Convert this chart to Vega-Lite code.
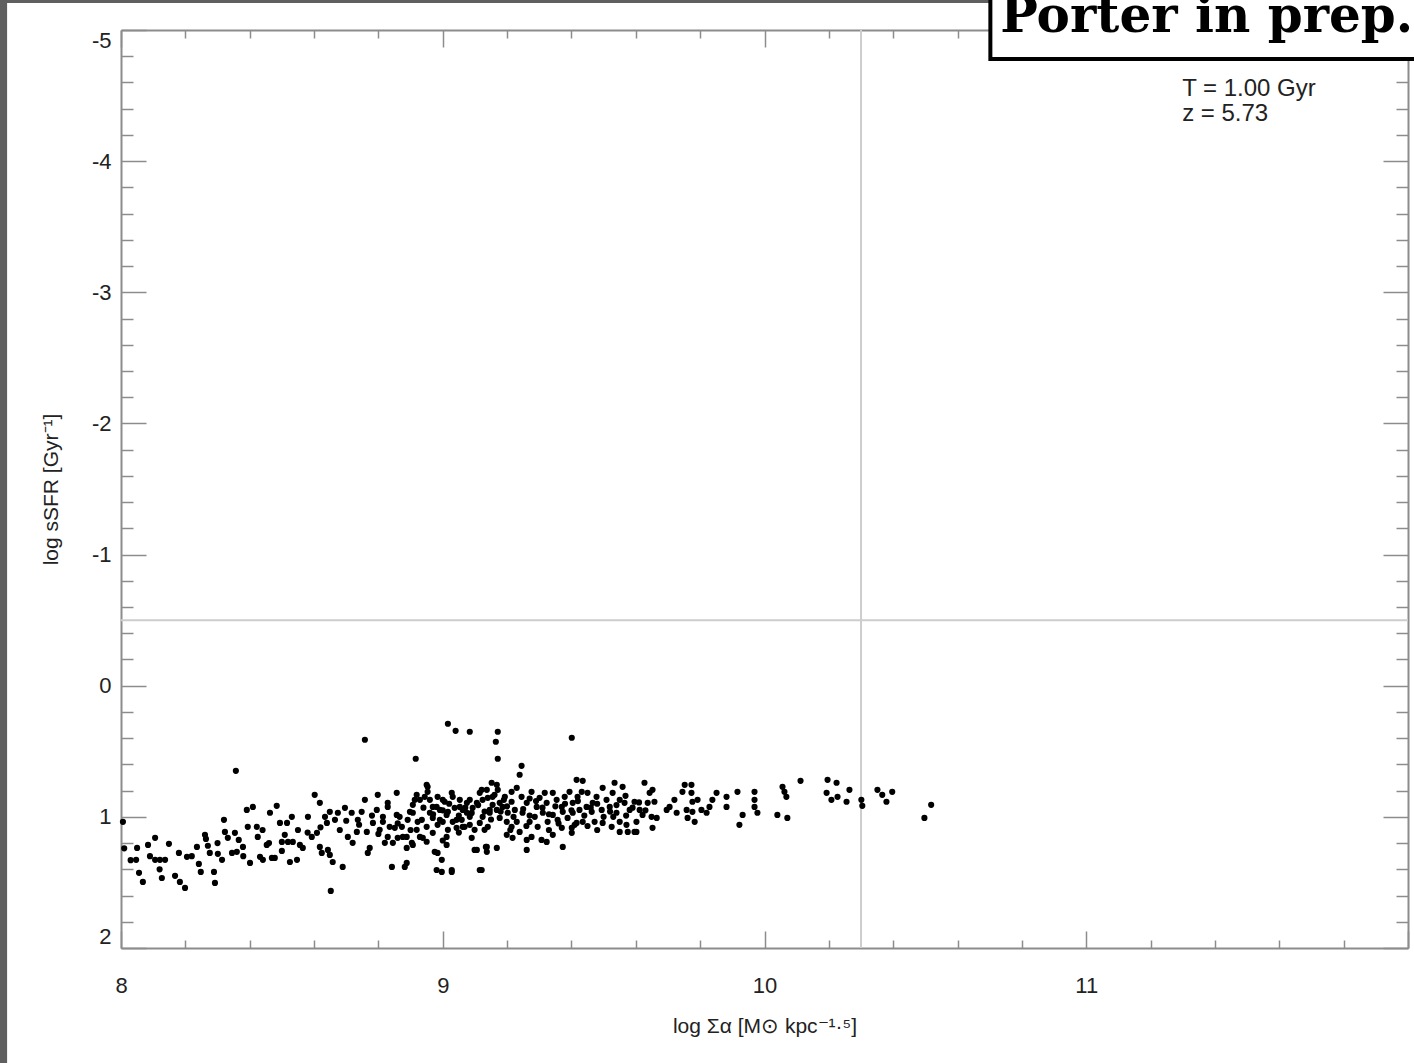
{
  "$schema": "https://vega.github.io/schema/vega-lite/v6.json",
  "width": 1287,
  "height": 918,
  "autosize": {"type": "none"},
  "padding": {"left": 121, "top": 30, "right": 6, "bottom": 115},
  "background": "white",
  "view": {"stroke": null},
  "config": {
    "axis": {
      "grid": false,
      "tickColor": "#8c8c8c",
      "tickWidth": 1.5,
      "domainColor": "#8c8c8c",
      "domainWidth": 2,
      "labelFont": "Liberation Sans",
      "labelFontSize": 22,
      "labelColor": "#222222",
      "labelOverlap": false,
      "labelBound": false,
      "titleFont": "Liberation Sans",
      "titleFontSize": 21,
      "titleFontWeight": "normal",
      "titleColor": "#222222"
    }
  },
  "layer": [
    {
      "data": {"values": [{}]},
      "mark": {"type": "rule", "color": "#cdcdcd", "strokeWidth": 2},
      "encoding": {
        "y": {
          "datum": -0.5,
          "type": "quantitative",
          "scale": {"domain": [-5, 2], "reverse": true, "nice": false, "zero": false},
          "axis": {
            "orient": "right",
            "values": [-5,-4.8,-4.6,-4.4,-4.2,-4,-3.8,-3.6,-3.4,-3.2,-3,-2.8,-2.6,-2.4,-2.2,-2,-1.8,-1.6,-1.4,-1.2,-1,-0.8,-0.6,-0.4,-0.2,0,0.2,0.4,0.6,0.8,1,1.2,1.4,1.6,1.8,2],
            "labels": false,
            "title": null,
            "tickSize": {"condition": {"test": "abs(datum.value - round(datum.value)) < 0.01", "value": -25}, "value": -12}
          }
        }
      }
    },
    {
      "data": {"values": [{}]},
      "mark": {"type": "rule", "color": "#cdcdcd", "strokeWidth": 2},
      "encoding": {
        "x": {
          "datum": 10.3,
          "type": "quantitative",
          "scale": {"domain": [8, 12], "nice": false, "zero": false},
          "axis": {
            "orient": "top",
            "values": [8,8.2,8.4,8.6,8.8,9,9.2,9.4,9.6,9.8,10,10.2,10.4,10.6,10.8,11,11.2,11.4,11.6,11.8,12],
            "labels": false,
            "title": null,
            "tickSize": {"condition": {"test": "abs(datum.value - round(datum.value)) < 0.01", "value": -17}, "value": -8}
          }
        }
      }
    },
    {
      "data": {"values": [
        {"x":9.016,"y":0.290},{"x":9.040,"y":0.344},{"x":9.084,"y":0.351},{"x":9.171,"y":0.351},{"x":9.165,"y":0.427},
        {"x":9.171,"y":0.557},{"x":8.758,"y":0.412},{"x":8.916,"y":0.557},{"x":8.357,"y":0.649},{"x":8.652,"y":1.565},
        {"x":8.006,"y":1.038},{"x":9.401,"y":0.397},{"x":9.245,"y":0.611},{"x":9.239,"y":0.679},{"x":8.010,"y":1.240},
        {"x":8.050,"y":1.237},{"x":8.047,"y":1.328},{"x":8.056,"y":1.427},{"x":8.068,"y":1.496},{"x":8.084,"y":1.214},
        {"x":8.106,"y":1.160},{"x":8.106,"y":1.328},{"x":8.121,"y":1.328},{"x":8.127,"y":1.466},{"x":8.137,"y":1.328},
        {"x":8.149,"y":1.206},{"x":8.168,"y":1.450},{"x":8.180,"y":1.275},{"x":8.183,"y":1.496},{"x":8.199,"y":1.542},
        {"x":8.205,"y":1.305},{"x":8.236,"y":1.229},{"x":8.242,"y":1.359},{"x":8.248,"y":1.420},{"x":8.261,"y":1.137},
        {"x":8.264,"y":1.168},{"x":8.276,"y":1.275},{"x":8.289,"y":1.420},{"x":8.292,"y":1.504},{"x":8.301,"y":1.282},
        {"x":8.314,"y":1.328},{"x":8.320,"y":1.023},{"x":8.323,"y":1.115},{"x":8.332,"y":1.160},{"x":8.345,"y":1.275},
        {"x":8.354,"y":1.122},{"x":8.360,"y":1.267},{"x":8.366,"y":1.176},{"x":8.379,"y":1.229},{"x":8.391,"y":0.947},
        {"x":8.394,"y":1.076},{"x":8.401,"y":1.351},{"x":8.410,"y":0.924},{"x":8.422,"y":1.076},{"x":8.425,"y":1.153},
        {"x":8.432,"y":1.305},{"x":8.441,"y":1.328},{"x":8.453,"y":1.214},{"x":8.463,"y":0.969},{"x":8.469,"y":1.313},
        {"x":8.478,"y":1.313},{"x":8.484,"y":0.916},{"x":8.494,"y":1.046},{"x":8.500,"y":1.191},{"x":8.509,"y":1.137},
        {"x":8.516,"y":1.046},{"x":8.519,"y":1.191},{"x":8.531,"y":1.000},{"x":8.534,"y":1.191},{"x":8.525,"y":1.344},
        {"x":8.547,"y":1.328},{"x":8.556,"y":1.214},{"x":8.565,"y":1.237},{"x":8.581,"y":1.000},{"x":8.593,"y":1.153},
        {"x":8.602,"y":0.832},{"x":8.609,"y":1.122},{"x":8.618,"y":0.893},{"x":8.618,"y":1.229},{"x":8.624,"y":1.275},
        {"x":8.634,"y":1.000},{"x":8.640,"y":1.046},{"x":8.643,"y":1.252},{"x":8.649,"y":1.290},{"x":8.658,"y":1.344},
        {"x":8.649,"y":0.962},{"x":8.665,"y":1.023},{"x":8.674,"y":0.969},{"x":8.689,"y":1.382},{"x":8.696,"y":0.931},
        {"x":8.705,"y":1.153},{"x":8.717,"y":0.969},{"x":8.720,"y":1.198},{"x":8.733,"y":1.115},{"x":8.736,"y":1.023},
        {"x":8.748,"y":0.962},{"x":8.758,"y":0.870},{"x":8.764,"y":1.115},{"x":8.767,"y":1.275},{"x":8.773,"y":1.237},
        {"x":8.783,"y":1.046},{"x":8.795,"y":0.947},{"x":8.804,"y":1.099},{"x":8.798,"y":0.832},{"x":8.814,"y":1.000},
        {"x":8.820,"y":1.198},{"x":8.829,"y":0.924},{"x":8.835,"y":1.076},{"x":8.842,"y":1.382},{"x":8.845,"y":1.198},
        {"x":8.857,"y":0.817},{"x":8.866,"y":1.000},{"x":8.873,"y":1.076},{"x":8.876,"y":1.153},{"x":8.882,"y":1.382},
        {"x":8.888,"y":1.351},{"x":8.891,"y":1.023},{"x":8.904,"y":1.198},{"x":8.907,"y":0.969},{"x":8.913,"y":0.870},
        {"x":8.919,"y":1.099},{"x":8.929,"y":1.153},{"x":8.935,"y":1.023},{"x":8.944,"y":0.847},{"x":8.950,"y":1.076},
        {"x":8.953,"y":0.771},{"x":8.960,"y":0.969},{"x":8.969,"y":1.122},{"x":8.981,"y":0.924},{"x":8.984,"y":1.275},
        {"x":8.991,"y":1.023},{"x":8.997,"y":1.420},{"x":9.000,"y":0.870},{"x":9.012,"y":1.214},{"x":9.016,"y":0.962},
        {"x":9.028,"y":1.420},{"x":9.031,"y":0.847},{"x":9.043,"y":1.023},{"x":9.053,"y":0.924},{"x":9.062,"y":1.076},
        {"x":9.075,"y":0.969},{"x":9.084,"y":0.870},{"x":9.099,"y":1.252},{"x":9.115,"y":1.405},{"x":9.121,"y":0.794},
        {"x":9.124,"y":1.000},{"x":9.137,"y":1.229},{"x":9.140,"y":1.076},{"x":9.146,"y":0.947},{"x":9.155,"y":0.847},
        {"x":9.168,"y":0.756},{"x":8.950,"y":0.756},{"x":8.953,"y":0.809},{"x":8.829,"y":0.893},{"x":8.919,"y":0.832},
        {"x":8.929,"y":0.870},{"x":8.907,"y":0.908},{"x":8.898,"y":0.962},{"x":8.814,"y":1.038},{"x":8.857,"y":0.985},
        {"x":8.851,"y":1.084},{"x":8.888,"y":1.153},{"x":8.860,"y":1.160},{"x":8.829,"y":1.153},{"x":8.922,"y":1.038},
        {"x":8.938,"y":1.160},{"x":8.907,"y":1.214},{"x":8.888,"y":1.237},{"x":8.960,"y":0.870},{"x":8.969,"y":0.924},
        {"x":8.984,"y":0.847},{"x":8.991,"y":0.947},{"x":9.006,"y":0.885},{"x":9.012,"y":0.985},{"x":9.028,"y":0.817},
        {"x":9.037,"y":0.931},{"x":9.053,"y":0.870},{"x":9.062,"y":0.947},{"x":9.075,"y":0.893},{"x":9.084,"y":1.000},
        {"x":9.093,"y":0.931},{"x":9.106,"y":0.893},{"x":8.969,"y":1.008},{"x":8.984,"y":1.061},{"x":9.000,"y":1.038},
        {"x":9.016,"y":1.099},{"x":9.031,"y":1.038},{"x":9.043,"y":1.084},{"x":9.059,"y":1.023},{"x":9.068,"y":1.076},
        {"x":9.084,"y":1.061},{"x":9.099,"y":1.099},{"x":9.115,"y":1.046},{"x":9.130,"y":1.099},{"x":9.012,"y":1.153},
        {"x":8.975,"y":1.267},{"x":8.997,"y":1.328},{"x":8.981,"y":1.405},{"x":9.028,"y":1.405},{"x":9.106,"y":1.252},
        {"x":9.121,"y":1.405},{"x":9.134,"y":1.229},{"x":9.137,"y":1.267},{"x":9.168,"y":1.237},{"x":9.115,"y":0.817},
        {"x":9.137,"y":0.794},{"x":9.152,"y":0.740},{"x":9.161,"y":0.832},{"x":9.171,"y":0.794},{"x":9.124,"y":0.870},
        {"x":9.140,"y":0.855},{"x":9.155,"y":0.908},{"x":9.168,"y":0.947},{"x":9.146,"y":0.969},{"x":9.177,"y":0.893},
        {"x":9.193,"y":0.847},{"x":9.186,"y":0.924},{"x":9.202,"y":0.969},{"x":9.214,"y":0.885},{"x":9.224,"y":0.947},
        {"x":9.230,"y":0.779},{"x":9.214,"y":0.809},{"x":9.177,"y":1.008},{"x":9.199,"y":1.038},{"x":9.214,"y":1.076},
        {"x":9.230,"y":1.038},{"x":9.239,"y":1.115},{"x":9.217,"y":1.160},{"x":9.199,"y":1.137},{"x":9.245,"y":0.847},
        {"x":9.261,"y":0.893},{"x":9.276,"y":0.809},{"x":9.292,"y":0.924},{"x":9.301,"y":0.855},{"x":9.317,"y":0.817},
        {"x":9.323,"y":0.893},{"x":9.248,"y":0.969},{"x":9.270,"y":1.038},{"x":9.286,"y":1.000},{"x":9.295,"y":1.076},
        {"x":9.311,"y":0.969},{"x":9.326,"y":1.038},{"x":9.261,"y":1.176},{"x":9.276,"y":1.153},{"x":9.261,"y":1.252},
        {"x":9.307,"y":1.176},{"x":9.323,"y":1.191},{"x":9.342,"y":1.137},{"x":9.373,"y":1.229},{"x":9.342,"y":0.817},
        {"x":9.354,"y":0.870},{"x":9.370,"y":0.924},{"x":9.379,"y":0.847},{"x":9.394,"y":0.809},{"x":9.404,"y":0.893},
        {"x":9.416,"y":0.718},{"x":9.419,"y":0.847},{"x":9.342,"y":0.985},{"x":9.357,"y":1.023},{"x":9.373,"y":0.962},
        {"x":9.388,"y":1.008},{"x":9.404,"y":0.969},{"x":9.416,"y":1.046},{"x":9.401,"y":1.084},{"x":9.370,"y":1.084},
        {"x":9.435,"y":0.725},{"x":9.432,"y":0.809},{"x":9.450,"y":0.817},{"x":9.466,"y":0.893},{"x":9.447,"y":0.924},
        {"x":9.425,"y":0.947},{"x":9.463,"y":0.962},{"x":9.478,"y":0.847},{"x":9.497,"y":0.779},{"x":9.509,"y":0.870},
        {"x":9.494,"y":0.947},{"x":9.519,"y":0.924},{"x":9.528,"y":0.817},{"x":9.534,"y":0.740},{"x":9.559,"y":0.771},
        {"x":9.550,"y":0.870},{"x":9.540,"y":0.969},{"x":9.565,"y":0.893},{"x":9.581,"y":0.947},{"x":9.596,"y":0.885},
        {"x":9.612,"y":0.947},{"x":9.627,"y":0.740},{"x":9.643,"y":0.817},{"x":9.652,"y":0.794},{"x":9.637,"y":0.893},
        {"x":9.658,"y":0.885},{"x":9.621,"y":0.985},{"x":9.649,"y":1.000},{"x":9.665,"y":1.008},{"x":9.410,"y":1.061},
        {"x":9.435,"y":1.038},{"x":9.472,"y":1.038},{"x":9.497,"y":1.046},{"x":9.525,"y":1.076},{"x":9.550,"y":1.038},
        {"x":9.571,"y":1.061},{"x":9.602,"y":1.038},{"x":9.401,"y":1.122},{"x":9.550,"y":1.115},{"x":9.575,"y":1.115},
        {"x":9.602,"y":1.115},{"x":9.652,"y":1.084},{"x":9.696,"y":0.947},{"x":9.705,"y":0.924},{"x":9.720,"y":0.870},
        {"x":9.727,"y":0.969},{"x":9.752,"y":0.756},{"x":9.773,"y":0.756},{"x":9.745,"y":0.809},{"x":9.773,"y":0.817},
        {"x":9.776,"y":0.885},{"x":9.792,"y":0.870},{"x":9.758,"y":0.947},{"x":9.776,"y":0.962},{"x":9.761,"y":1.008},
        {"x":9.783,"y":1.038},{"x":9.804,"y":0.947},{"x":9.820,"y":0.969},{"x":9.829,"y":0.924},{"x":9.838,"y":0.870},
        {"x":9.851,"y":0.817},{"x":9.882,"y":0.847},{"x":9.882,"y":0.924},{"x":9.916,"y":0.809},{"x":9.932,"y":0.985},
        {"x":9.922,"y":1.061},{"x":9.969,"y":0.809},{"x":9.969,"y":0.870},{"x":9.969,"y":0.924},{"x":9.978,"y":0.969},
        {"x":10.040,"y":0.985},{"x":10.056,"y":0.771},{"x":10.062,"y":0.809},{"x":10.068,"y":0.847},{"x":10.071,"y":1.008},
        {"x":10.112,"y":0.725},{"x":10.196,"y":0.718},{"x":10.224,"y":0.740},{"x":10.264,"y":0.794},{"x":10.193,"y":0.817},
        {"x":10.208,"y":0.870},{"x":10.227,"y":0.847},{"x":10.255,"y":0.885},{"x":10.301,"y":0.870},{"x":10.304,"y":0.916},
        {"x":10.351,"y":0.794},{"x":10.366,"y":0.832},{"x":10.379,"y":0.885},{"x":10.397,"y":0.809},{"x":10.497,"y":1.008},
        {"x":10.518,"y":0.908},{"x":9.596,"y":1.115},{"x":9.568,"y":0.840},
        {"x":8.94,"y":0.93},{"x":8.97,"y":0.98},{"x":9.00,"y":0.95},{"x":9.02,"y":0.90},{"x":9.05,"y":0.99},
        {"x":9.07,"y":0.93},{"x":9.09,"y":0.97},{"x":9.11,"y":0.91},{"x":9.13,"y":0.96},{"x":9.15,"y":1.02},
        {"x":9.18,"y":0.96},{"x":9.20,"y":0.92},{"x":9.22,"y":1.00},{"x":9.25,"y":0.94},{"x":9.27,"y":0.99},
        {"x":9.29,"y":0.88},{"x":9.31,"y":0.93},{"x":9.33,"y":0.98},{"x":9.35,"y":0.92},{"x":9.36,"y":1.05},
        {"x":9.38,"y":0.90},{"x":9.40,"y":0.95},{"x":9.42,"y":0.88},{"x":9.44,"y":0.99},{"x":9.46,"y":0.93},
        {"x":9.48,"y":0.90},{"x":9.50,"y":1.00},{"x":9.52,"y":0.96},{"x":9.54,"y":0.91},{"x":9.57,"y":0.99},
        {"x":9.59,"y":0.93},{"x":9.61,"y":0.89},{"x":9.63,"y":0.95},{"x":9.45,"y":1.07},{"x":9.48,"y":1.10},
        {"x":9.53,"y":1.00},{"x":9.21,"y":1.10},{"x":9.26,"y":1.07},{"x":9.33,"y":1.10},{"x":9.19,"y":0.87},
        {"x":9.27,"y":0.86},{"x":9.05,"y":1.12},{"x":9.09,"y":1.16},{"x":9.00,"y":1.18},{"x":8.95,"y":1.19},
        {"x":8.90,"y":1.10},{"x":8.86,"y":1.05},{"x":8.80,"y":1.13},{"x":8.78,"y":0.99},{"x":8.74,"y":1.06},
        {"x":8.70,"y":1.03},{"x":8.68,"y":1.10},{"x":8.62,"y":1.08},{"x":8.58,"y":1.12},{"x":8.55,"y":1.10},
        {"x":8.50,"y":1.26},{"x":8.46,"y":1.20},{"x":8.44,"y":1.10},{"x":8.38,"y":1.30},{"x":8.30,"y":1.20},
        {"x":8.27,"y":1.22},{"x":8.22,"y":1.30},{"x":8.12,"y":1.40},{"x":8.09,"y":1.30},{"x":8.03,"y":1.33}
      ]},
      "mark": {"type": "circle", "size": 38, "color": "black", "opacity": 1},
      "encoding": {
        "x": {
          "field": "x",
          "type": "quantitative",
          "scale": {"domain": [8, 12], "nice": false, "zero": false},
          "axis": {
            "orient": "bottom",
            "values": [8,8.2,8.4,8.6,8.8,9,9.2,9.4,9.6,9.8,10,10.2,10.4,10.6,10.8,11,11.2,11.4,11.6,11.8,12],
            "labelExpr": "abs(datum.value - round(datum.value)) < 0.01 && datum.value < 11.5 ? '' + round(datum.value) : ''",
            "labelFlush": false,
            "labelPadding": 44,
            "labelBaseline": "top",
            "title": "log Σα [M⊙ kpc⁻¹·⁵]",
            "titlePadding": 10,
            "tickSize": {"condition": {"test": "abs(datum.value - round(datum.value)) < 0.01", "value": -17}, "value": -8}
          }
        },
        "y": {
          "field": "y",
          "type": "quantitative",
          "scale": {"domain": [-5, 2], "reverse": true, "nice": false, "zero": false},
          "axis": {
            "orient": "left",
            "values": [-5,-4.8,-4.6,-4.4,-4.2,-4,-3.8,-3.6,-3.4,-3.2,-3,-2.8,-2.6,-2.4,-2.2,-2,-1.8,-1.6,-1.4,-1.2,-1,-0.8,-0.6,-0.4,-0.2,0,0.2,0.4,0.6,0.8,1,1.2,1.4,1.6,1.8,2],
            "labelExpr": "abs(datum.value - round(datum.value)) < 0.01 ? '' + round(datum.value) : ''",
            "labelFlush": true,
            "labelPadding": 35,
            "title": "log sSFR [Gyr⁻¹]",
            "titlePadding": 30,
            "tickSize": {"condition": {"test": "abs(datum.value - round(datum.value)) < 0.01", "value": -25}, "value": -12}
          }
        }
      }
    },
    {
      "data": {"values": [{}]},
      "mark": {"type": "text", "align": "left", "baseline": "alphabetic", "font": "Liberation Sans", "fontSize": 24, "lineHeight": 25, "color": "#222222"},
      "encoding": {
        "x": {"datum": 11.298, "type": "quantitative", "scale": {"domain": [8, 12], "nice": false, "zero": false}, "axis": null},
        "y": {"datum": -4.496, "type": "quantitative", "scale": {"domain": [-5, 2], "reverse": true, "nice": false, "zero": false}, "axis": null},
        "text": {"value": ["T = 1.00 Gyr", "z = 5.73"]}
      }
    },
    {
      "data": {"values": [{}]},
      "mark": {"type": "rect", "color": "#5f5f5f"},
      "encoding": {
        "x": {"datum": 7.5, "type": "quantitative", "scale": {"domain": [8, 12], "nice": false, "zero": false}, "axis": null},
        "x2": {"datum": 7.646},
        "y": {"datum": -5.5, "type": "quantitative", "scale": {"domain": [-5, 2], "reverse": true, "nice": false, "zero": false}, "axis": null},
        "y2": {"datum": 3.0}
      }
    },
    {
      "data": {"values": [{}]},
      "mark": {"type": "rect", "color": "#5f5f5f"},
      "encoding": {
        "x": {"datum": 7.5, "type": "quantitative", "scale": {"domain": [8, 12], "nice": false, "zero": false}, "axis": null},
        "x2": {"datum": 10.7},
        "y": {"datum": -5.5, "type": "quantitative", "scale": {"domain": [-5, 2], "reverse": true, "nice": false, "zero": false}, "axis": null},
        "y2": {"datum": -5.206}
      }
    },
    {
      "data": {"values": [{}]},
      "mark": {"type": "rect", "fill": "white", "stroke": "black", "strokeWidth": 4},
      "encoding": {
        "x": {"datum": 10.702, "type": "quantitative", "scale": {"domain": [8, 12], "nice": false, "zero": false}, "axis": null},
        "x2": {"datum": 12.2},
        "y": {"datum": -5.4, "type": "quantitative", "scale": {"domain": [-5, 2], "reverse": true, "nice": false, "zero": false}, "axis": null},
        "y2": {"datum": -4.779}
      }
    },
    {
      "data": {"values": [{}]},
      "mark": {"type": "text", "align": "left", "baseline": "alphabetic", "font": "DejaVu Serif", "fontWeight": "bold", "fontSize": 50, "color": "black"},
      "encoding": {
        "x": {"datum": 10.733, "type": "quantitative", "scale": {"domain": [8, 12], "nice": false, "zero": false}, "axis": null},
        "y": {"datum": -4.985, "type": "quantitative", "scale": {"domain": [-5, 2], "reverse": true, "nice": false, "zero": false}, "axis": null},
        "text": {"value": "Porter in prep."}
      }
    }
  ],
  "resolve": {"axis": {"x": "independent", "y": "independent"}}
}
